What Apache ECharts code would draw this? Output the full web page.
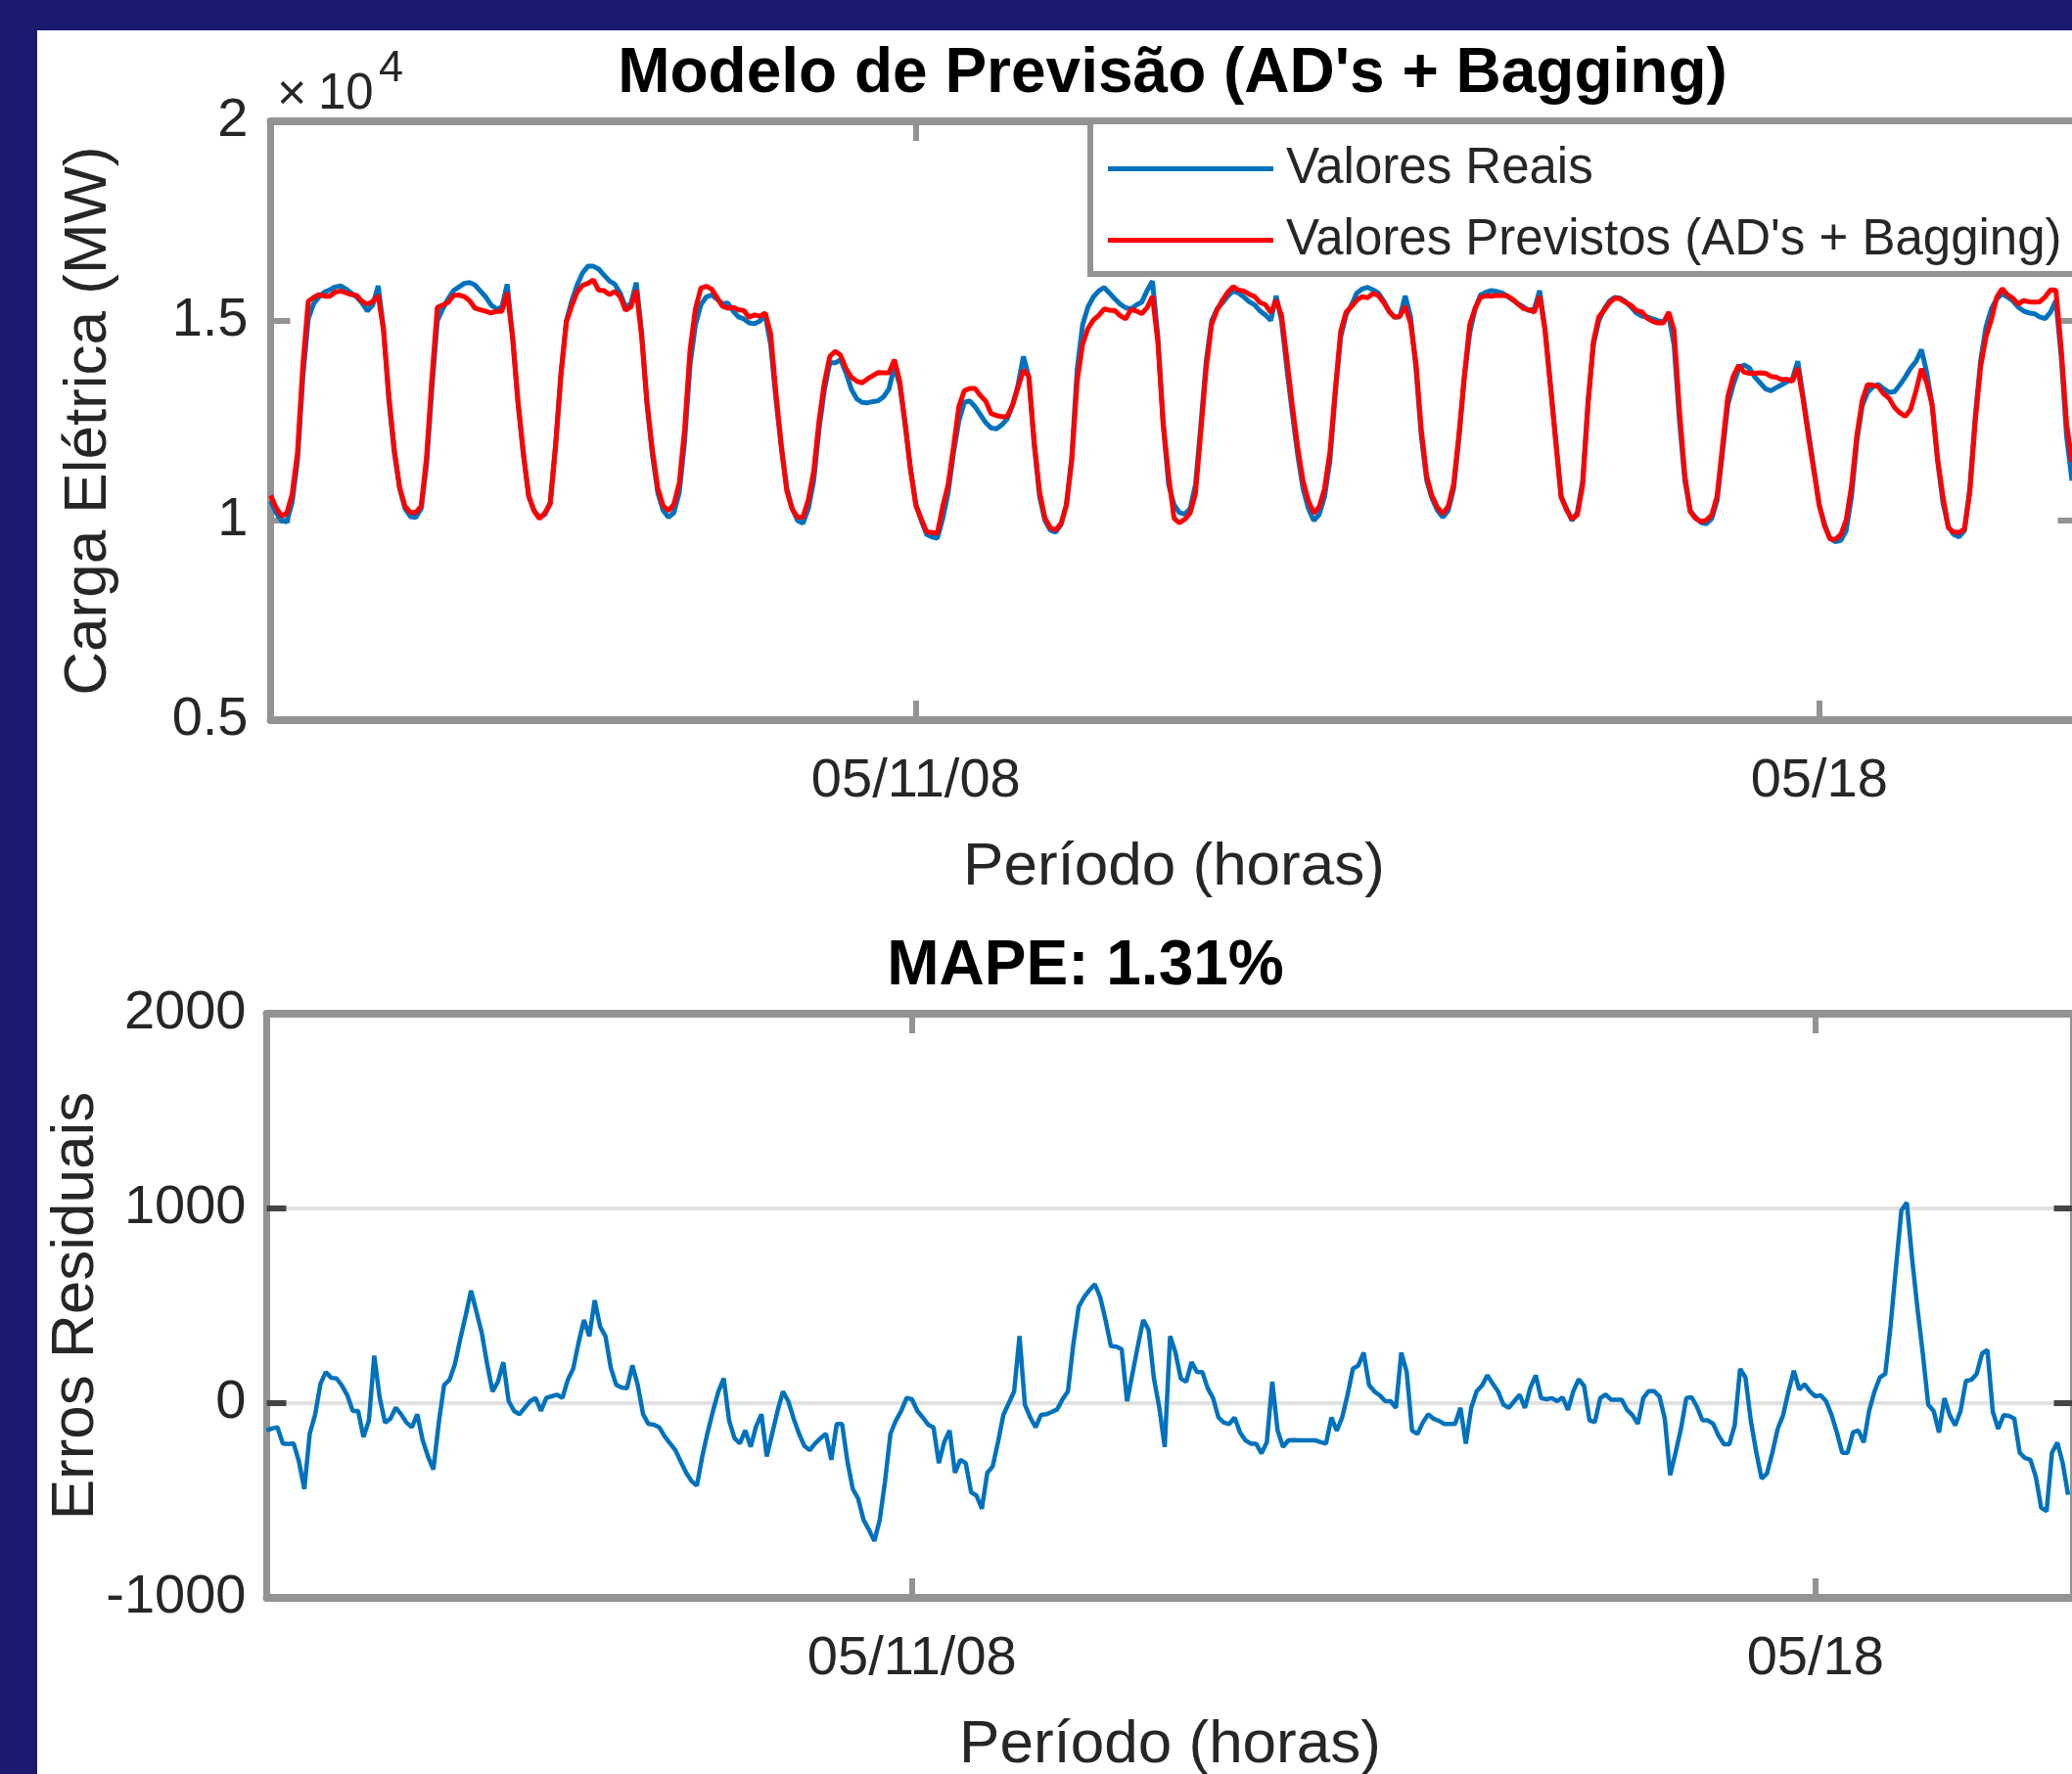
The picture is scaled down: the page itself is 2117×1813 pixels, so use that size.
<!DOCTYPE html>
<html>
<head>
<meta charset="utf-8">
<script src="https://cdn.jsdelivr.net/npm/echarts@6/dist/echarts.min.js"></script>
<style>
html,body{margin:0;padding:0;background:#1a1a6e;width:2117px;height:1813px;overflow:hidden;}
#frame{position:absolute;left:38px;top:31px;width:2079px;height:1782px;background:#ffffff;}
#chart{position:absolute;left:0;top:0;width:2117px;height:1813px;}
</style>
</head>
<body>
<div id="frame"></div>
<div id="chart"></div>
<script>
// ---- data (hourly, starting 05/06/2008 00:00) ----
const tickHours = [120, 288];
const tickLabels = ['05/11/08', '05/18'];
const loadTicks = [5000, 10000, 15000, 20000];
const residualTicks = [-1000, 0, 1000, 2000];

const realLoad = [
 10490,10200,10000,9970,10450,11500,13600,15050,15430,15600,15720,15780,15850,15880,15800,15700,15600,15450,15250,15400,15880,14800,13000,11700,
 10800,10300,10100,10080,10300,11400,13300,15000,15300,15550,15760,15850,15940,15960,15900,15750,15600,15400,15300,15345,15920,14600,12950,11650,
 10600,10250,10080,10150,10450,11900,13700,15000,15500,15900,16200,16370,16370,16300,16150,16000,15920,15700,15350,15430,15960,14700,12900,11650,
 10700,10250,10080,10200,10700,12000,13900,14900,15400,15600,15650,15550,15430,15450,15250,15100,15050,14950,14930,15000,15140,14400,13000,11800,
 10800,10300,10000,9930,10300,11000,12300,13290,13950,13950,14030,13700,13290,13050,12960,12950,12980,13000,13100,13300,13870,13400,12400,11300,
 10400,10000,9650,9590,9560,10050,10700,11700,12500,12960,13000,12850,12650,12450,12320,12300,12400,12550,12900,13400,14110,13600,11900,10600,
 10000,9760,9710,9900,10410,11600,13800,14900,15350,15600,15750,15840,15700,15550,15420,15330,15300,15400,15470,15760,16000,14600,12400,10900,
 10400,10200,10160,10300,10900,12400,14000,15000,15300,15450,15620,15750,15700,15600,15480,15400,15250,15150,15010,15630,15000,13800,12700,11650,
 10800,10300,10000,10150,10600,11500,13200,14600,15150,15400,15700,15800,15840,15780,15700,15500,15250,15100,15100,15630,15100,13800,12100,11000,
 10550,10250,10080,10250,10800,12060,13600,14700,15300,15650,15720,15760,15740,15700,15620,15520,15430,15350,15260,15300,15760,14800,13400,12000,
 10600,10300,10000,10200,11000,13000,14400,15000,15300,15500,15590,15570,15480,15350,15200,15120,15100,15050,15010,14980,15140,14400,12500,11000,
 10250,10080,9950,9920,10050,10500,11700,12900,13400,13780,13900,13820,13600,13450,13300,13250,13330,13400,13480,13550,13990,13100,12200,11300,
 10400,9900,9550,9470,9500,9750,10600,12000,12880,13210,13350,13410,13300,13210,13230,13400,13600,13820,13990,14280,13700,12880,11500,10450,
 9850,9650,9590,9750,10820,12600,14000,14850,15300,15550,15680,15600,15500,15345,15250,15200,15180,15100,15060,15220,15510,14100,12100,11000
];

const predictedLoad = [
 10630,10330,10120,10180,10660,11710,13900,15490,15590,15660,15620,15620,15720,15750,15710,15660,15640,15490,15420,15490,15640,14770,13100,11780,
 10820,10360,10200,10200,10360,11590,13570,15340,15400,15460,15640,15650,15610,15510,15320,15280,15240,15200,15240,15240,15710,14590,12990,11710,
 10620,10240,10050,10190,10420,11870,13660,14970,15380,15720,15890,15940,16030,15770,15760,15660,15740,15610,15270,15350,15770,14610,12960,11760,
 10810,10370,10250,10410,10940,12300,14260,15300,15820,15870,15800,15590,15370,15320,15340,15280,15260,15090,15150,15120,15200,14670,13160,11840,
 10740,10290,10080,10090,10520,11240,12510,13470,14110,14240,14140,13810,13590,13490,13450,13550,13630,13710,13700,13700,14030,13490,12440,11270,
 10380,10040,9720,9700,9680,10360,10900,11840,12860,13250,13310,13310,13130,12990,12680,12630,12600,12610,12900,13340,13770,13610,11970,10720,
 10060,9820,9760,9930,10390,11540,13500,14410,14810,15020,15140,15300,15270,15260,15130,15050,15290,15250,15180,15330,15620,14470,12420,11130,
 10060,9940,10030,10190,10690,12240,13840,14920,15270,15520,15720,15860,15770,15750,15670,15610,15460,15410,15210,15520,15140,14030,12890,11840,
 10990,10490,10190,10340,10800,11710,13270,14740,15220,15360,15520,15610,15580,15690,15640,15460,15240,15090,15120,15370,14940,13940,12260,11100,
 10610,10330,10170,10360,10910,12170,13620,14910,15320,15590,15630,15620,15640,15640,15630,15540,15420,15310,15280,15220,15620,14770,13380,11970,
 10590,10270,10040,10140,10880,12910,14490,15100,15270,15460,15570,15550,15460,15390,15260,15230,15070,14990,14950,14950,15220,14770,12760,11130,
 10220,10050,9970,10010,10140,10610,11870,13110,13610,13890,13720,13690,13690,13700,13690,13610,13590,13530,13540,13490,13820,13030,12100,11240,
 10370,9860,9540,9530,9650,10010,10860,12150,13020,13410,13390,13350,13170,13060,12830,12700,12610,12790,13250,13800,13450,12890,11540,10600,
 9820,9710,9700,9790,10710,12480,13850,14600,15030,15590,15810,15660,15570,15420,15510,15480,15470,15480,15600,15780,15770,14300,12410,11470
];

const residuals = [
 -140,-130,-124,-207,-210,-207,-300,-441,-157,-60,100,160,130,127,90,40,-40,-40,-174,-90,244,30,-100,-80,
 -23,-57,-100,-124,-57,-190,-274,-341,-100,94,120,200,330,450,578,470,360,200,60,110,210,10,-40,-57,
 -23,10,27,-40,27,35,43,27,120,177,311,427,344,528,394,344,180,94,80,77,194,94,-57,-107,
 -110,-124,-170,-207,-241,-300,-357,-400,-424,-274,-150,-40,60,127,-90,-180,-207,-140,-224,-120,-57,-274,-157,-40,
 60,10,-80,-157,-220,-241,-207,-180,-157,-291,-107,-107,-300,-441,-491,-600,-650,-708,-600,-400,-157,-90,-40,27,
 20,-40,-73,-110,-124,-308,-200,-141,-358,-291,-308,-458,-475,-542,-358,-325,-200,-60,0,60,344,-8,-74,-124,
 -60,-57,-45,-32,20,60,300,494,544,580,611,544,427,293,290,277,10,150,293,427,377,126,-24,-225,
 344,260,126,110,210,160,160,76,26,-74,-100,-107,-74,-150,-191,-208,-208,-258,-200,110,-141,-225,-191,-190,
 -191,-191,-191,-191,-200,-208,-74,-141,-74,43,177,193,260,93,60,40,10,10,-24,260,160,-141,-158,-100,
 -57,-80,-91,-107,-107,-107,-24,-208,-24,60,90,143,100,60,-8,-24,10,43,-24,80,143,26,20,26,
 10,30,-35,62,123,88,-88,-97,26,44,18,18,18,-35,-62,-106,26,62,62,35,-79,-370,-255,-132,
 26,30,-20,-88,-88,-106,-167,-211,-211,-114,176,132,-90,-250,-387,-361,-255,-132,-62,60,167,70,97,60,
 35,40,10,-60,-150,-255,-255,-150,-140,-202,-40,60,132,150,400,700,990,1030,740,484,250,-9,-40,-150,
 26,-62,-114,-40,114,120,150,255,273,-44,-132,-62,-65,-79,-255,-282,-291,-379,-537,-555,-255,-202,-308,-470
];

const seriesNames = ['Valores Reais', "Valores Previstos (AD's + Bagging)"];

// ---- chart ----
const FONT = '"Liberation Sans", Arial, Helvetica, sans-serif';
const GRAY = '#939393';
const TXT = '#262626';
const BLUE = '#0072BD';
const RED = '#FF0000';
const toPairs = arr => arr.map((v, i) => [i, v]);
const xFmt = v => { const k = tickHours.indexOf(v); return k >= 0 ? tickLabels[k] : ''; };

function xAxes(grid, labelMargin, nameGap) {
  const line = {show: true, onZero: false, lineStyle: {color: GRAY, width: 8}};
  const tick = {show: true, inside: true, length: 20, customValues: tickHours, lineStyle: {color: GRAY, width: 6}};
  return [
    {gridIndex: grid, type: 'value', position: 'bottom', min: 0, max: 336,
     axisLine: line, axisTick: tick, splitLine: {show: false},
     axisLabel: {show: true, customValues: tickHours, formatter: xFmt, fontSize: 56, color: TXT, fontFamily: FONT, margin: labelMargin},
     name: 'Período (horas)', nameLocation: 'middle', nameGap: nameGap, nameMoveOverlap: false,
     nameTextStyle: {fontSize: 62, color: TXT, fontFamily: FONT}},
    {gridIndex: grid, type: 'value', position: 'top', min: 0, max: 336,
     axisLine: line, axisTick: tick, splitLine: {show: false}, axisLabel: {show: false}}
  ];
}

// per grid: [labelled left axis, right axis with inner ticks, left tick-only axis]
function yAxes(grid, ticks, tickColor, labelFmt, margin, name, nameGap, split) {
  const min = ticks[0], max = ticks[ticks.length - 1], interval = ticks[1] - ticks[0];
  const inner = ticks.slice(1, ticks.length - 1);
  const line = {show: true, onZero: false, lineStyle: {color: GRAY, width: 7}};
  const tick = {show: true, inside: true, length: 20, customValues: inner, lineStyle: {color: tickColor, width: 6}};
  return [
    {gridIndex: grid, type: 'value', position: 'left', min: min, max: max, interval: interval,
     axisLine: line, axisTick: {show: false},
     axisLabel: {formatter: labelFmt, fontSize: 56, color: TXT, fontFamily: FONT, margin: margin},
     splitLine: split,
     name: name, nameLocation: 'middle', nameGap: nameGap, nameMoveOverlap: false,
     nameTextStyle: {fontSize: 62, color: TXT, fontFamily: FONT}},
    {gridIndex: grid, type: 'value', position: 'right', min: min, max: max, interval: interval,
     axisLine: line, axisTick: tick, axisLabel: {show: false}, splitLine: {show: false}},
    {gridIndex: grid, type: 'value', position: 'left', min: min, max: max, interval: interval,
     axisLine: {show: false, onZero: false}, axisTick: tick, axisLabel: {show: false}, splitLine: {show: false}}
  ];
}

const option = {
  animation: false,
  backgroundColor: 'transparent',
  grid: [
    {left: 276.5, top: 124, width: 1846, height: 612, containLabel: false, outerBoundsMode: 'none'},
    {left: 272.5, top: 1036, width: 1846, height: 597, containLabel: false, outerBoundsMode: 'none'}
  ],
  xAxis: [].concat(xAxes(0, 35, 120), xAxes(1, 35, 120)),
  yAxis: [].concat(
    yAxes(0, loadTicks, GRAY, v => String(v / 10000), 23,
          'Carga Elétrica (MW)', 155, {show: false}),
    yAxes(1, residualTicks, '#444444', v => String(v), 21,
          'Erros Residuais', 164, {show: true, lineStyle: {color: '#e1e1e1', width: 4}})
  ),
  legend: {
    data: seriesNames,
    orient: 'vertical', left: 1114, top: 124,
    padding: [23, 30, 9, 18],
    itemGap: 22, itemWidth: 169, itemHeight: 5,
    icon: 'rect',
    backgroundColor: '#ffffff', borderColor: GRAY, borderWidth: 6,
    textStyle: {fontSize: 51, color: TXT, fontFamily: FONT, lineHeight: 50, padding: [0, 0, 0, 8]}
  },
  graphic: [
    {type: 'text', x: 1198, y: 76, z: 100,
     style: {text: "Modelo de Previsão (AD's + Bagging)", fill: '#000000', font: 'bold 64px ' + FONT, align: 'center', verticalAlign: 'middle'}},
    {type: 'text', x: 1109, y: 988, z: 100,
     style: {text: 'MAPE: 1.31%', fill: '#000000', font: 'bold 64px ' + FONT, align: 'center', verticalAlign: 'middle'}},
    {type: 'text', x: 283, y: 98, z: 100,
     style: {text: '×', fill: TXT, font: '52px ' + FONT, align: 'left', verticalAlign: 'middle'}},
    {type: 'text', x: 325, y: 97, z: 100,
     style: {text: '10', fill: TXT, font: '51px ' + FONT, align: 'left', verticalAlign: 'middle'}},
    {type: 'text', x: 387, y: 71, z: 100,
     style: {text: '4', fill: TXT, font: '45px ' + FONT, align: 'left', verticalAlign: 'middle'}}
  ],
  series: [
    {name: seriesNames[0], type: 'line', xAxisIndex: 0, yAxisIndex: 0, data: toPairs(realLoad),
     symbol: 'none', showSymbol: false, lineStyle: {color: BLUE, width: 5}, itemStyle: {color: BLUE}, z: 2},
    {name: seriesNames[1], type: 'line', xAxisIndex: 0, yAxisIndex: 0, data: toPairs(predictedLoad),
     symbol: 'none', showSymbol: false, lineStyle: {color: RED, width: 5}, itemStyle: {color: RED}, z: 3},
    {name: 'Erros Residuais', type: 'line', xAxisIndex: 2, yAxisIndex: 3, data: toPairs(residuals),
     symbol: 'none', showSymbol: false, lineStyle: {color: BLUE, width: 4.5}, itemStyle: {color: BLUE}, z: 2}
  ]
};

const chart = echarts.init(document.getElementById('chart'), null, {renderer: 'canvas', width: 2117, height: 1813});
chart.setOption(option);
</script>
</body>
</html>
